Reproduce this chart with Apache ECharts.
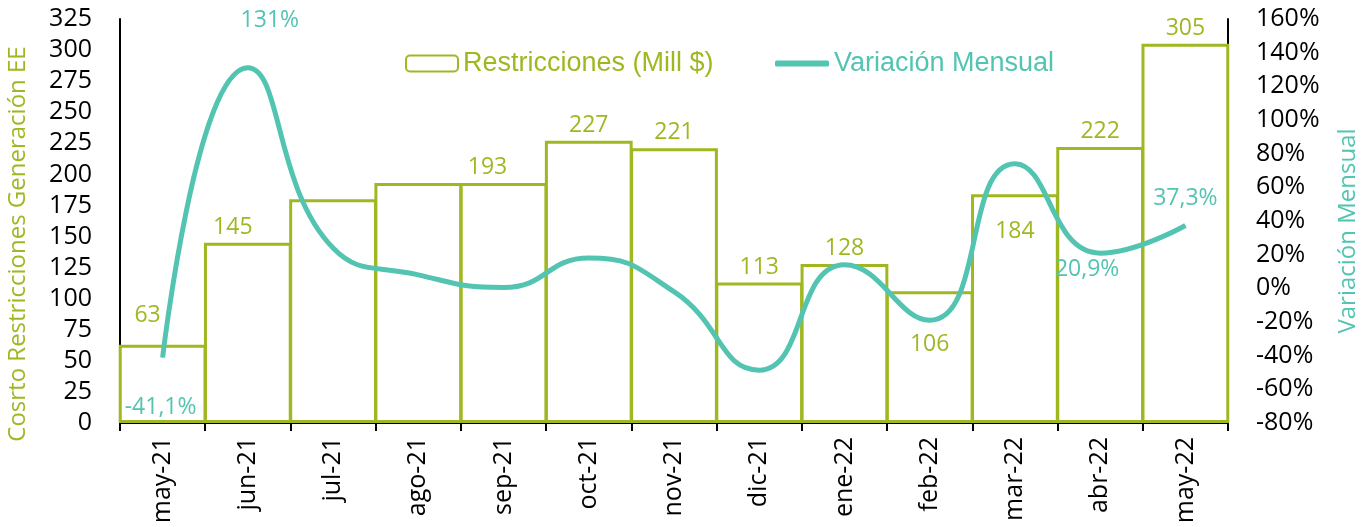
<!DOCTYPE html>
<html>
<head>
<meta charset="utf-8">
<script src="https://cdn.jsdelivr.net/npm/echarts@6/dist/echarts.min.js"></script>
<style>
html,body{margin:0;padding:0;background:#fff;}
#chart{width:1365px;height:527px;}
</style>
</head>
<body>
<div id="chart"></div>
<script>
// datos del grafico
var meses = ['may-21','jun-21','jul-21','ago-21','sep-21','oct-21','nov-21','dic-21','ene-22','feb-22','mar-22','abr-22','may-22'];
var restricciones = [63,145,180,193,193,227,221,113,128,106,184,222,305];
var variacion = [-41.1,131,24,8,0.5,18,-2,-48.6,14,-19,74,20.9,37.3];
var barraConEtiqueta = [true,true,false,false,true,true,true,true,true,true,true,true,true];
var lineaConEtiqueta = [true,true,false,false,false,false,false,false,false,false,false,true,true];

var verde = '#9fb822';
var turquesa = '#52c4b1';
var fuente = '"Open Sans", "Noto Sans", sans-serif';

// ajustes de posicion de etiquetas (solo estilo)
var offBarra = {0:[-15,-14],1:[-15,0],4:[-16,0]};
var posBarra = {9:'insideTop',10:'insideTop'};
var distBarra = {9:42,10:26};
var posLinea = {0:'bottom',1:'top',11:'bottom',12:'top'};
var distLinea = {0:38,1:35,11:4,12:15};
var padLinea = {0:[0,4,0,0],1:[0,0,0,44],11:[0,26,0,0],12:[0,0,0,0]};

var datosBarra = restricciones.map(function(v,i){
	return {
		value:v,
		label:{
			show:barraConEtiqueta[i],
			position:posBarra[i]||'top',
			distance:distBarra[i]||4,
			offset:offBarra[i]||[0,0]
		}
	};
});
var datosLinea = variacion.map(function(v,i){
	return {
		value:v,
		label:{
			show:lineaConEtiqueta[i],
			position:posLinea[i]||'top',
			distance:distLinea[i]||5,
			padding:padLinea[i]||0
		}
	};
});

var myChart = echarts.init(document.getElementById('chart'));
var option = {
	backgroundColor:'#fff',
	animation:false,
	textStyle:{fontFamily:fuente},
	legend:[
		{
			top:50,
			left:405,
			padding:0,
			itemWidth:52,
			itemHeight:16,
			itemGap:6,
			textStyle:{fontFamily:'"Liberation Sans", Arial, sans-serif',fontSize:27,color:verde},
			data:['Restricciones (Mill $)']
		},
		{
			top:50,
			left:775,
			padding:0,
			itemWidth:54,
			itemHeight:6,
			icon:'roundRect',
			textStyle:{fontFamily:'"Liberation Sans", Arial, sans-serif',fontSize:27,color:turquesa},
			data:['Variación Mensual']
		}
	],
	grid:{left:120,right:137,top:19,bottom:104,outerBoundsMode:'none'},
	xAxis:{
		type:'category',
		data:meses,
		axisLine:{lineStyle:{color:'#000',width:2}},
		axisTick:{show:true,interval:0,length:8,lineStyle:{color:'#000',width:2}},
		axisLabel:{rotate:90,interval:0,color:'#000',fontSize:25,margin:14,fontFamily:fuente},
		splitLine:{show:false}
	},
	yAxis:[
		{
			type:'value',
			min:0,max:325,interval:25,
			name:'Cosrto Restricciones Generación EE',
			nameLocation:'middle',
			nameRotate:90,
			nameGap:90,
			nameTextStyle:{color:verde,fontSize:24,fontFamily:fuente,padding:[0,46,0,0]},
			axisLine:{show:true,lineStyle:{color:'#000',width:2}},
			axisTick:{show:false},
			axisLabel:{color:'#000',fontSize:25,margin:28,fontFamily:fuente},
			splitLine:{show:false}
		},
		{
			type:'value',
			min:-80,max:160,interval:20,
			name:'Variación Mensual',
			nameLocation:'middle',
			nameRotate:90,
			nameGap:108,
			nameTextStyle:{color:turquesa,fontSize:24,fontFamily:fuente,padding:[0,20,0,0]},
			axisLine:{show:true,lineStyle:{color:'#000',width:2}},
			axisTick:{show:false},
			axisLabel:{color:'#000',fontSize:25,margin:28,formatter:'{value}%',fontFamily:fuente},
			splitLine:{show:false}
		}
	],
	series:[
		{
			name:'Restricciones (Mill $)',
			type:'bar',
			barWidth:'103%',
			barCategoryGap:'0%',
			itemStyle:{color:'rgba(255,255,255,0)',borderColor:verde,borderWidth:3},
			label:{color:verde,fontSize:23,fontFamily:fuente},
			data:datosBarra
		},
		{
			name:'Variación Mensual',
			type:'line',
			yAxisIndex:1,
			smooth:0.5,
			symbol:'circle',
			symbolSize:1,
			showSymbol:true,
			lineStyle:{color:turquesa,width:5},
			itemStyle:{color:turquesa},
			label:{
				color:turquesa,fontSize:23,fontFamily:fuente,
				formatter:function(p){ return String(p.value).replace('.',',')+'%'; }
			},
			labelLayout:{hideOverlap:false},
			data:datosLinea
		}
	]
};
myChart.setOption(option);
</script>
</body>
</html>
